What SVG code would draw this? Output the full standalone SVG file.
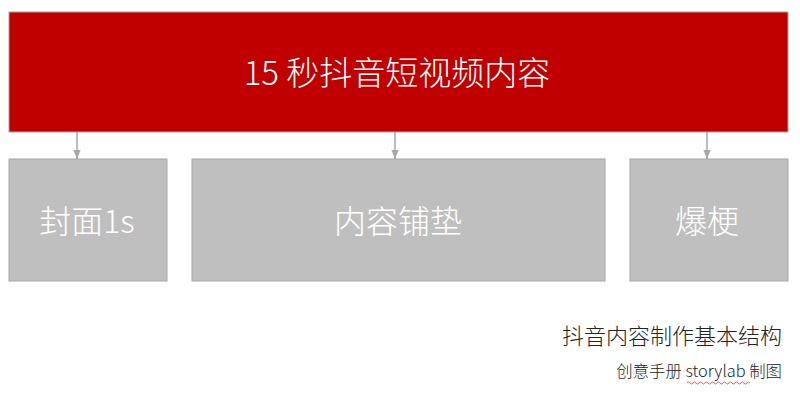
<svg xmlns="http://www.w3.org/2000/svg" width="800" height="404" viewBox="0 0 800 404">
<style>
.box{fill:#BFBFBF;stroke:#A6A6A6;stroke-width:1}
.lbl{font-family:"Noto Sans CJK SC","Noto Sans",sans-serif;font-weight:300;fill:#FFFFFF;text-anchor:middle}
.cap{font-family:"Noto Sans CJK SC","Noto Sans",sans-serif;font-weight:300;fill:#222222;text-anchor:end}
.conn{stroke:#A6A6A6;stroke-width:1.5;fill:none;marker-end:url(#arr)}
</style>
<defs>
<marker id="arr" viewBox="0 0 10 8" refX="10" refY="4" markerWidth="9" markerHeight="10" markerUnits="userSpaceOnUse" orient="auto">
<path d="M0,0 L10,4 L0,8 z" fill="#A6A6A6"/>
</marker>
</defs>
<rect width="800" height="404" fill="#FFFFFF"/>
<g id="top">
<rect x="9" y="12" width="779" height="120" fill="#C00000" stroke="#A6A6A6" stroke-width="1"/>
<text class="lbl" x="397" y="85" font-size="33">15 秒抖音短视频内容</text>
</g>
<g id="connectors">
<line class="conn" x1="77" y1="132" x2="77" y2="159"/>
<line class="conn" x1="395" y1="132" x2="395" y2="159"/>
<line class="conn" x1="707" y1="132" x2="707" y2="159"/>
</g>
<g id="cover">
<rect class="box" x="9" y="159" width="158" height="122"/>
<text class="lbl" x="87" y="233" font-size="32">封面1s</text>
</g>
<g id="content">
<rect class="box" x="192" y="159" width="413" height="122"/>
<text class="lbl" x="398" y="233" font-size="32">内容铺垫</text>
</g>
<g id="punch">
<rect class="box" x="630" y="159" width="158" height="122"/>
<text class="lbl" x="707" y="233" font-size="32">爆梗</text>
</g>
<g id="caption">
<text class="cap" x="782" y="344" font-size="22">抖音内容制作基本结构</text>
<text class="cap" x="782" y="377" font-size="16.4">创意手册 storylab 制图</text>
<path d="M687,383 q1.5,-2 3,0 t3,0 t3,0 t3,0 t3,0 t3,0 t3,0 t3,0 t3,0 t3,0 t3,0 t3,0 t3,0 t3,0 t3,0 t3,0 t3,0 t3,0 t3,0 t3,0 t3,0" fill="none" stroke="#E03030" stroke-width="0.8"/>
</g>
</svg>
